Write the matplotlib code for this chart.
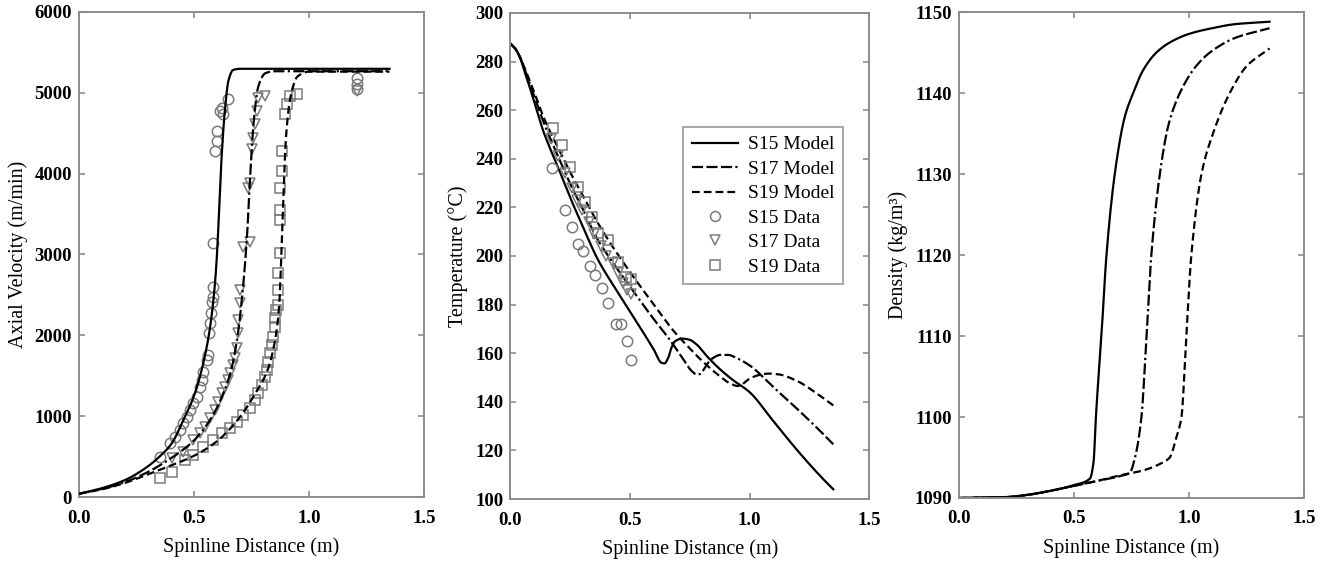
import numpy as np
import matplotlib.pyplot as plt

plt.rcParams['font.family'] = ['Liberation Serif', 'DejaVu Serif']

# ---------------------------------------------------------------- velocity
vel_s15_x = [0, 0.1, 0.2, 0.3, 0.35, 0.4, 0.46, 0.5, 0.54, 0.57, 0.59, 0.60, 0.61, 0.62, 0.635, 0.65, 0.67, 0.7, 0.8, 1.35]
vel_s15_y = [40, 110, 210, 380, 500, 650, 990, 1250, 1650, 2100, 2600, 3000, 3600, 4200, 4800, 5150, 5280, 5295, 5295, 5295]
vel_s17_x = [0, 0.1, 0.2, 0.3, 0.4, 0.5, 0.58, 0.63, 0.66, 0.69, 0.71, 0.73, 0.745, 0.76, 0.78, 0.81, 0.85, 1.35]
vel_s17_y = [40, 100, 185, 310, 480, 700, 1000, 1300, 1550, 2000, 2500, 3200, 4000, 4650, 5080, 5240, 5265, 5265]
vel_s19_x = [0, 0.1, 0.2, 0.3, 0.4, 0.5, 0.6, 0.7, 0.76, 0.82, 0.85, 0.87, 0.88, 0.89, 0.9, 0.92, 0.95, 1.0, 1.35]
vel_s19_y = [40, 95, 175, 280, 390, 510, 690, 990, 1250, 1570, 1900, 2350, 3000, 3800, 4450, 4950, 5200, 5260, 5260]

vd_s15_x = [0.352, 0.396, 0.417, 0.439, 0.452, 0.47, 0.483, 0.496, 0.513, 0.526, 0.535, 0.539, 0.557, 0.561,
            0.565, 0.57, 0.574, 0.578, 0.583, 0.583, 0.583, 0.591, 0.60, 0.60, 0.613, 0.626, 0.62, 0.648,
            1.21, 1.21, 1.21]
vd_s15_y = [494, 667, 741, 827, 914, 988, 1074, 1160, 1235, 1358, 1444, 1543, 1691, 1753,
            2025, 2148, 2272, 2407, 2469, 2593, 3136, 4284, 4407, 4531, 4778, 4741, 4815, 4926,
            5050, 5111, 5185]
vd_s17_x = [0.404, 0.452, 0.496, 0.526, 0.548, 0.57, 0.591, 0.604, 0.622, 0.635, 0.648, 0.657, 0.67, 0.678,
            0.687, 0.691, 0.691, 0.70, 0.70, 0.713, 0.743, 0.735, 0.743, 0.752, 0.757, 0.765, 0.774,
            0.778, 0.809, 1.21]
vd_s17_y = [481, 556, 704, 790, 864, 975, 1074, 1173, 1284, 1358, 1444, 1531, 1630, 1716,
            1840, 2025, 2185, 2395, 2556, 3086, 3148, 3827, 3889, 4309, 4444, 4617, 4778,
            4938, 4963, 5020]
vd_s19_x = [0.352, 0.404, 0.461, 0.496, 0.539, 0.583, 0.622, 0.657, 0.687, 0.713, 0.743, 0.765, 0.778, 0.796,
            0.809, 0.817, 0.822, 0.83, 0.839, 0.843, 0.852, 0.852, 0.857, 0.865, 0.865, 0.865, 0.874,
            0.874, 0.874, 0.874, 0.883, 0.883, 0.896, 0.904, 0.917, 0.948]
vd_s19_y = [235, 309, 457, 519, 617, 704, 790, 852, 926, 1012, 1099, 1198, 1284, 1383,
            1481, 1568, 1667, 1778, 1877, 1975, 2099, 2210, 2309, 2370, 2556, 2765, 3012,
            3420, 3543, 3827, 4037, 4284, 4741, 4864, 4963, 4988]

# ---------------------------------------------------------------- temperature
tmp_s15_x = [0, 0.02, 0.04, 0.06, 0.08, 0.1, 0.14, 0.2, 0.264, 0.3, 0.364, 0.45, 0.55, 0.6, 0.633, 0.645,
             0.66, 0.675, 0.69, 0.72, 0.75, 0.78, 0.82, 0.87, 0.93, 1.0, 1.1, 1.2, 1.3, 1.35]
tmp_s15_y = [287.5, 285.5, 282, 276, 270, 263.5, 251, 236.5, 221, 213, 199, 185, 169.5, 161.5, 156, 155.8,
             158, 162.5, 165, 166, 165.5, 163.5, 159, 154, 149, 144, 132, 120, 109, 104]
tmp_s17_x = [0, 0.02, 0.04, 0.06, 0.08, 0.1, 0.14, 0.2, 0.264, 0.3, 0.364, 0.417, 0.5, 0.6, 0.667, 0.72,
             0.76, 0.78, 0.795, 0.81, 0.84, 0.88, 0.91, 0.95, 1.0, 1.1, 1.2, 1.3, 1.35]
tmp_s17_y = [287.5, 285.5, 282, 277, 271.5, 266, 255, 241, 227, 220, 207, 199, 187.5, 174, 165.5, 158,
             152.5, 151.2, 151.5, 153.5, 157.5, 159.3, 159.3, 157.8, 155, 146, 137, 127.5, 122.5]
tmp_s19_x = [0, 0.02, 0.04, 0.06, 0.08, 0.1, 0.14, 0.2, 0.264, 0.3, 0.364, 0.417, 0.5, 0.6, 0.68, 0.75,
             0.8, 0.87, 0.92, 0.95, 0.965, 0.98, 1.0, 1.04, 1.08, 1.12, 1.2, 1.28, 1.35]
tmp_s19_y = [287.5, 285.5, 282, 277.5, 272.5, 267.5, 257, 244.5, 232, 225.5, 214, 205.5, 193.5, 180, 169.5, 162,
             157, 151, 147.5, 146.5, 146.8, 148, 149.5, 151, 151.6, 151.3, 148.5, 143.5, 138.5]

td_s15_x = [0.174, 0.229, 0.257, 0.285, 0.306, 0.333, 0.354, 0.382, 0.41, 0.444, 0.465, 0.489, 0.507]
td_s15_y = [236, 219, 212, 205, 202, 196, 192, 187, 180.5, 172, 172, 165, 157]
td_s17_x = [0.17, 0.2, 0.23, 0.26, 0.28, 0.3, 0.33, 0.35, 0.38, 0.4, 0.43, 0.45, 0.47, 0.49, 0.507]
td_s17_y = [248, 241, 234, 228, 223, 219, 214, 209, 204, 200, 197, 193, 189, 186, 184.5]
td_s19_x = [0.18, 0.215, 0.25, 0.285, 0.313, 0.34, 0.368, 0.41, 0.451, 0.486, 0.507]
td_s19_y = [252.5, 245.5, 236.5, 228.5, 222, 216, 209.5, 206.5, 197.5, 191.5, 190.5]

# ---------------------------------------------------------------- density
den_s15_x = [0, 0.2, 0.3, 0.4, 0.5, 0.569, 0.585, 0.595, 0.619, 0.641, 0.677, 0.72, 0.757, 0.8, 0.858, 0.92,
             1.0, 1.1, 1.2, 1.35]
den_s15_y = [1090, 1090.1, 1090.4, 1090.9, 1091.6, 1092.4, 1094.5, 1100, 1110, 1120, 1130, 1137, 1140, 1142.8,
             1145, 1146.3, 1147.3, 1148, 1148.5, 1148.8]
den_s17_x = [0, 0.2, 0.3, 0.4, 0.5, 0.6, 0.7, 0.742, 0.765, 0.793, 0.815, 0.836, 0.873, 0.91, 0.96, 1.03,
             1.1, 1.2, 1.35]
den_s17_y = [1090, 1090.1, 1090.4, 1090.9, 1091.5, 1092.1, 1092.7, 1093.1, 1095, 1100, 1110, 1120, 1130, 1136,
             1140, 1143.3, 1145.2, 1146.8, 1148]
den_s19_x = [0, 0.2, 0.3, 0.4, 0.5, 0.6, 0.7, 0.8, 0.88, 0.916, 0.945, 0.967, 0.988, 1.01, 1.054, 1.104,
             1.177, 1.25, 1.35]
den_s19_y = [1090, 1090.1, 1090.4, 1090.9, 1091.5, 1092.1, 1092.8, 1093.4, 1094.3, 1095, 1097.5, 1100, 1110,
             1120, 1130, 1135, 1140, 1143.3, 1145.5]


def smooth(x, y, n=600):
    # monotone cubic (Fritsch-Carlson) through the read-off points, rounds the corners
    x, y = np.asarray(x, float), np.asarray(y, float)
    h = np.diff(x)
    d = np.diff(y) / h
    m = np.zeros_like(y)
    m[0], m[-1] = d[0], d[-1]
    for i in range(1, len(x) - 1):
        if d[i - 1] * d[i] > 0:
            w1, w2 = 2 * h[i] + h[i - 1], h[i] + 2 * h[i - 1]
            m[i] = (w1 + w2) / (w1 / d[i - 1] + w2 / d[i])
    xs = np.linspace(x[0], x[-1], n)
    k = np.clip(np.searchsorted(x, xs) - 1, 0, len(x) - 2)
    t = (xs - x[k]) / h[k]
    h00 = 2 * t**3 - 3 * t**2 + 1
    h10 = t**3 - 2 * t**2 + t
    h01 = -2 * t**3 + 3 * t**2
    h11 = t**3 - t**2
    ys = h00 * y[k] + h10 * h[k] * m[k] + h01 * y[k + 1] + h11 * h[k] * m[k + 1]
    return xs, ys


S17_DASH = (5, 1.5, 5, 1.5, 5, 1.5, 1, 1.5)
S19_DASH = (3.5, 1.8)
GRAY = '#7a7a7a'
LABEL_FS = 14.5


def style_axes(ax):
    for s in ax.spines.values():
        s.set_color('#8c8c8c')
        s.set_linewidth(1.4)
    ax.tick_params(direction='in', top=True, right=True, length=4, width=1.2, color='#8c8c8c',
                   labelsize=13.5)
    ax.tick_params(axis='x', pad=9)
    ax.tick_params(axis='y', pad=5)
    for lab in ax.get_yticklabels():
        lab.set_fontweight('bold')
    ax.set_xlim(0, 1.5)
    ax.set_xticks([0, 0.5, 1.0, 1.5])
    ax.set_xticklabels(['0.0', '0.5', '1.0', '1.5'], fontweight='bold')
    ax.set_xlabel('Spinline Distance (m)', fontsize=LABEL_FS, labelpad=8)


fig = plt.figure(figsize=(13.25, 5.61), dpi=100)
ax1 = fig.add_axes([0.0596, 0.114, 0.2604, 0.865])
ax2 = fig.add_axes([0.385, 0.1105, 0.271, 0.8665])
ax3 = fig.add_axes([0.7238, 0.1123, 0.2604, 0.8663])

mk = dict(linestyle='none', markerfacecolor='none', markeredgecolor=GRAY, markersize=7.5, markeredgewidth=1.1)

# Panel 1: axial velocity
ax1.plot(*smooth(vel_s15_x, vel_s15_y), color='black', lw=1.6, zorder=3)
ax1.plot(*smooth(vel_s17_x, vel_s17_y), color='black', lw=1.6, dashes=S17_DASH, zorder=3)
ax1.plot(*smooth(vel_s19_x, vel_s19_y), color='black', lw=1.6, dashes=S19_DASH, zorder=3)
ax1.plot(vd_s15_x, vd_s15_y, marker='o', **mk)
ax1.plot(vd_s17_x, vd_s17_y, marker='v', **mk)
ax1.plot(vd_s19_x, vd_s19_y, marker='s', **mk)
ax1.set_ylim(0, 6000)
ax1.set_yticks(range(0, 6001, 1000))
ax1.set_ylabel('Axial Velocity (m/min)', fontsize=LABEL_FS, labelpad=5)
style_axes(ax1)

# Panel 2: temperature
ax2.plot(*smooth(tmp_s15_x, tmp_s15_y), color='black', lw=1.6, label='S15 Model')
ax2.plot(*smooth(tmp_s17_x, tmp_s17_y), color='black', lw=1.6, dashes=S17_DASH, label='S17 Model')
ax2.plot(*smooth(tmp_s19_x, tmp_s19_y), color='black', lw=1.6, dashes=S19_DASH, label='S19 Model')
ax2.plot(td_s15_x, td_s15_y, marker='o', label='S15 Data', **mk)
ax2.plot(td_s17_x, td_s17_y, marker='v', label='S17 Data', **mk)
ax2.plot(td_s19_x, td_s19_y, marker='s', label='S19 Data', **mk)
ax2.set_ylim(100, 300)
ax2.set_yticks(range(100, 301, 20))
ax2.set_ylabel('Temperature (°C)', fontsize=LABEL_FS, labelpad=5)
leg = ax2.legend(loc='upper right', bbox_to_anchor=(0.928, 0.765), fontsize=14, frameon=True,
                 fancybox=False, framealpha=1, edgecolor='#9a9a9a', handlelength=2.4,
                 labelspacing=0.35, borderpad=0.45, handletextpad=0.5, markerscale=0.95,
                 borderaxespad=0)
leg.get_frame().set_linewidth(1.2)
style_axes(ax2)

# Panel 3: density
ax3.plot(*smooth(den_s15_x, den_s15_y), color='black', lw=1.6)
ax3.plot(*smooth(den_s17_x, den_s17_y), color='black', lw=1.6, dashes=S17_DASH)
ax3.plot(*smooth(den_s19_x, den_s19_y), color='black', lw=1.6, dashes=S19_DASH)
ax3.set_ylim(1090, 1150)
ax3.set_yticks(range(1090, 1151, 10))
ax3.set_ylabel('Density (kg/m³)', fontsize=LABEL_FS, labelpad=5)
style_axes(ax3)

fig.savefig('out.png', dpi=100)
